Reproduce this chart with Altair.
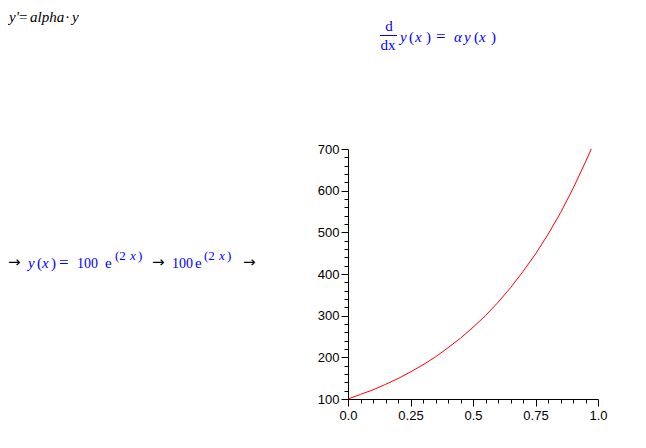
import altair as alt
import pandas as pd

# ---- data: y(x) = 100 e^(2x), clipped at 700 ----
xs = [0.0, 0.05, 0.10, 0.15, 0.20, 0.25, 0.30, 0.35, 0.40, 0.45, 0.50,
      0.55, 0.60, 0.65, 0.70, 0.75, 0.80, 0.85, 0.90, 0.95, 0.973]
ys = [100, 111, 122, 135, 149, 165, 182, 201, 223, 246, 272,
      300, 332, 367, 406, 448, 495, 547, 605, 669, 700]

x_ticks = [round(i * 0.05, 2) for i in range(21)]
x_major = [0.0, 0.25, 0.5, 0.75, 1.0]
x_labels = ["0.0", "0.25", "0.5", "0.75", "1.0"]
y_ticks = list(range(100, 701, 20))
y_major = [100, 200, 300, 400, 500, 600, 700]
y_labels = ["100", "200", "300", "400", "500", "600", "700"]

df = pd.DataFrame({"x": xs, "y": ys})

BLUE = "#0000ff"
BLACK = "#000000"
SERIF = "Liberation Serif"
SANS = "Liberation Sans"
ARROWFONT = "DejaVu Sans"

# plot-area origin on the page (for placing the worksheet text)
PAD_L, PAD_T = 340, 141
W, H = 250, 250
OX, OY = PAD_L + 8, PAD_T + 8


def label_expr(values, labels):
    parts = [f"abs(datum.value - {v}) < 1e-6 ? '{l}'" for v, l in zip(values, labels)]
    return " : ".join(parts) + " : ''"


def major_test(values):
    return " || ".join(f"abs(datum.value - {v}) < 1e-6" for v in values)


x_axis = alt.Axis(
    values=x_ticks, labelExpr=label_expr(x_major, x_labels),
    tickSize={"condition": {"test": major_test(x_major), "value": 7}, "value": 4},
    grid=False, title=None, domainColor=BLACK, tickColor=BLACK,
    labelColor=BLACK, labelFont=SANS, labelFontSize=13, labelPadding=3,
    labelOverlap=False, labelFlush=False,
)
y_axis = alt.Axis(
    values=y_ticks, labelExpr=label_expr(y_major, y_labels),
    tickSize={"condition": {"test": major_test(y_major), "value": 7}, "value": 4},
    grid=False, title=None, domainColor=BLACK, tickColor=BLACK,
    labelColor=BLACK, labelFont=SANS, labelFontSize=13, labelPadding=2,
    labelOverlap=False, labelFlush=False,
)

curve = alt.Chart(df).mark_line(color="#ff0000", strokeWidth=1, clip=True).encode(
    x=alt.X("x:Q", scale=alt.Scale(domain=[0, 1], nice=False, zero=False), axis=x_axis),
    y=alt.Y("y:Q", scale=alt.Scale(domain=[100, 700], nice=False, zero=False), axis=y_axis),
)

dummy = pd.DataFrame({"a": [0]})


def txt(s, x, y, size=15, style="normal", color=BLUE, align="left", font=SERIF):
    return alt.Chart(dummy).mark_text(
        text=s, align=align, baseline="alphabetic", font=font,
        fontSize=size, fontStyle=style, color=color,
    ).encode(x=alt.value(x - OX), y=alt.value(y - OY))


I, N = "italic", "normal"
# worksheet text pieces: (text, page-x, page-y baseline, size, style, colour, align, font)
pieces = [
    # y'= alpha.y  (input line, black italic)
    ("y'", 9, 22, 15, I, BLACK, "left", SERIF),
    ("=", 19, 22, 15, N, BLACK, "left", SERIF),
    ("alpha", 30, 22, 15, I, BLACK, "left", SERIF),
    ("\u00b7", 65, 22, 15, N, BLACK, "left", SERIF),
    ("y", 72, 22, 15, I, BLACK, "left", SERIF),
    # d/dx y(x) = alpha y(x)
    ("d", 389, 31, 15, N, BLUE, "center", SERIF),
    ("dx", 388, 50, 15, N, BLUE, "center", SERIF),
    ("y", 400, 42, 15, I, BLUE, "left", SERIF),
    ("(", 409, 42, 15, N, BLUE, "left", SERIF),
    ("x", 415, 42, 15, I, BLUE, "left", SERIF),
    (")", 426, 42, 15, N, BLUE, "left", SERIF),
    ("=", 436, 42, 17, N, BLUE, "left", SERIF),
    ("\u03b1", 454, 42, 15, I, BLUE, "left", SERIF),
    ("y", 464, 42, 15, I, BLUE, "left", SERIF),
    ("(", 474, 42, 15, N, BLUE, "left", SERIF),
    ("x", 479, 42, 15, I, BLUE, "left", SERIF),
    (")", 491, 42, 15, N, BLUE, "left", SERIF),
    # -> y(x) = 100 e^(2x) -> 100 e^(2x) ->
    ("\u2192", 8, 267, 15, N, BLACK, "left", ARROWFONT),
    ("y", 28, 268, 15, I, BLUE, "left", SERIF),
    ("(", 37, 268, 15, N, BLUE, "left", SERIF),
    ("x", 42, 268, 15, I, BLUE, "left", SERIF),
    (")", 51, 268, 15, N, BLUE, "left", SERIF),
    ("=", 59, 268, 17, N, BLUE, "left", SERIF),
    ("100", 77, 268, 14, N, BLUE, "left", SERIF),
    ("e", 105, 268, 15, N, BLUE, "left", SERIF),
    ("(2", 115, 260, 13, N, BLUE, "left", SERIF),
    ("x", 130, 260, 13, I, BLUE, "left", SERIF),
    (")", 138, 260, 13, N, BLUE, "left", SERIF),
    ("\u2192", 152, 267, 15, N, BLACK, "left", ARROWFONT),
    ("100", 172, 268, 14, N, BLUE, "left", SERIF),
    ("e", 195, 268, 15, N, BLUE, "left", SERIF),
    ("(2", 204, 260, 13, N, BLUE, "left", SERIF),
    ("x", 219, 260, 13, I, BLUE, "left", SERIF),
    (")", 227, 260, 13, N, BLUE, "left", SERIF),
    ("\u2192", 243, 267, 15, N, BLACK, "left", ARROWFONT),
]

layers = [curve] + [txt(*p) for p in pieces]

frac_bar = alt.Chart(dummy).mark_rule(color=BLUE, strokeWidth=1).encode(
    x=alt.value(380 - OX), x2=alt.value(397 - OX), y=alt.value(35.5 - OY)
)
layers.append(frac_bar)

chart = alt.layer(*layers).properties(
    width=W, height=H,
    autosize=alt.AutoSizeParams(type="none"),
    padding={"left": PAD_L, "top": PAD_T, "right": 630 - PAD_L - W, "bottom": 432 - PAD_T - H},
    background="white",
).configure_view(stroke=None)

chart.save("out.html", embed_options={"renderer": "svg", "actions": False})
